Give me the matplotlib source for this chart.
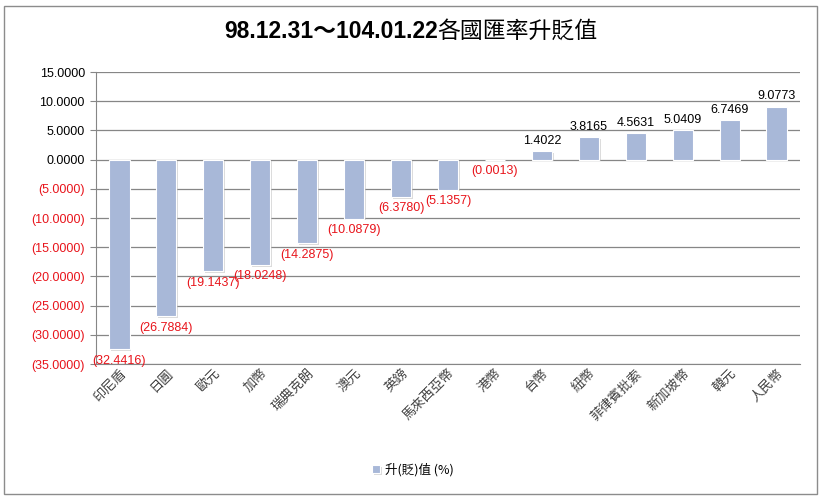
import matplotlib
matplotlib.use("Agg")
import matplotlib.pyplot as plt
import matplotlib.patheffects as pe
from matplotlib.patches import Rectangle
from matplotlib.ticker import FuncFormatter

plt.rcParams['font.family'] = ['Liberation Sans', 'Noto Sans CJK TC', 'DejaVu Sans']

# 各國貨幣與升貶值 (%)
currencies = ['印尼盾', '日圓', '歐元', '加幣', '瑞典克朗', '澳元', '英鎊', '馬來西亞幣',
              '港幣', '台幣', '紐幣', '菲律賓批索', '新加坡幣', '韓元', '人民幣']
values = [-32.4416, -26.7884, -19.1437, -18.0248, -14.2875, -10.0879, -6.3780, -5.1357,
          -0.0013, 1.4022, 3.8165, 4.5631, 5.0409, 6.7469, 9.0773]
yticks = [15, 10, 5, 0, -5, -10, -15, -20, -25, -30, -35]

title_dates = '98.12.31～104.01.22'
title_rest = '各國匯率升貶值'
legend_label = '升(貶)值 (%)'

bar_color = '#a8b8d8'
grid_color = '#868686'
red = '#e8141b'


def fmt(v):
    if v < 0:
        return '({:.4f})'.format(-v)
    return '{:.4f}'.format(v)


fig = plt.figure(figsize=(8.24, 4.98), dpi=100)
fig.patches.append(Rectangle((4 / 824, 1 - 494 / 498), 813 / 824, 488 / 498,
                             transform=fig.transFigure, fill=False,
                             edgecolor='#8c8c8c', linewidth=1.0))

ax = fig.add_axes([96 / 824, 1 - 364 / 498, 704 / 824, 292 / 498])
x = range(len(currencies))
bars = ax.bar(x, values, width=0.43, color=bar_color, edgecolor='white', linewidth=0.8,
              zorder=3, label=legend_label)
for b in bars:
    b.set_path_effects([pe.SimplePatchShadow(offset=(1.2, -1.2), shadow_rgbFace='#b8b8b8', alpha=0.5),
                        pe.Normal()])

ax.set_xlim(-0.5, len(currencies) - 0.5)
ax.set_ylim(-35, 15)
ax.set_yticks(yticks)
ax.yaxis.set_major_formatter(FuncFormatter(lambda v, p: fmt(v)))
ax.grid(axis='y', color=grid_color, linewidth=0.9, zorder=0)
for s in ['top', 'right']:
    ax.spines[s].set_visible(False)
ax.spines['left'].set_color(grid_color)
ax.spines['bottom'].set_color(grid_color)
ax.tick_params(axis='y', length=4, color=grid_color, labelsize=9, pad=4)
ax.tick_params(axis='x', length=0, pad=2)
for lab, v in zip(ax.get_yticklabels(), yticks):
    lab.set_color(red if v < 0 else 'black')

ax.set_xticks(list(x))
ax.set_xticklabels(currencies, rotation=45, ha='right', rotation_mode='anchor',
                   fontsize=9.5, family=['Noto Sans CJK TC'], color='#404040')

for i, v in enumerate(values):
    if v < 0:
        ax.annotate(fmt(v), (i, v), xytext=(0, -4), textcoords='offset points',
                    ha='center', va='top', fontsize=9, color=red)
    else:
        ax.annotate(fmt(v), (i, v), xytext=(0, 3), textcoords='offset points',
                    ha='center', va='bottom', fontsize=9, color='black')

# title: bold dates + regular CJK text, centred together
renderer = fig.canvas.get_renderer()
t1 = fig.text(0, 1 - 31 / 498, title_dates, ha='left', va='center', fontsize=16.5,
              fontweight='bold', family=['Liberation Sans', 'Noto Sans CJK TC'])
t2 = fig.text(0, 1 - 31 / 498, title_rest, ha='left', va='center', fontsize=16.5,
              family=['Noto Sans CJK TC'])
w1 = t1.get_window_extent(renderer).width
w2 = t2.get_window_extent(renderer).width
start = 411 - (w1 + w2) / 2
t1.set_x(start / 824)
t2.set_x((start + w1) / 824)

fig.legend(handles=[bars], labels=[legend_label], loc='center',
           bbox_to_anchor=(413 / 824, 1 - 470 / 498), frameon=False,
           handlelength=0.6, handleheight=0.6, handletextpad=0.4,
           prop={'family': ['Noto Sans CJK TC'], 'size': 9})

fig.savefig('out.png', dpi=100)
